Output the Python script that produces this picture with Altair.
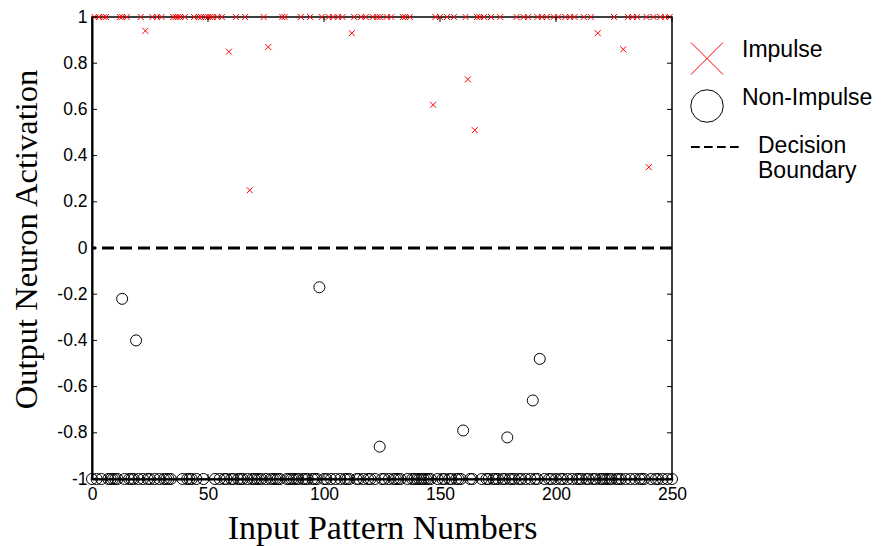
import altair as alt
import pandas as pd

# Impulse patterns (red crosses): x index and activation
imp_x = [1, 3, 5, 6, 12, 13, 15, 21, 23, 26, 28, 30, 35, 36, 37, 38, 40, 44, 46, 47, 49, 50,
         51, 52, 54, 56, 59, 62, 66, 68, 74, 76, 82, 83, 90, 94, 99, 102, 104, 106, 108, 112,
         113, 116, 118, 121, 123, 124, 127, 129, 134, 135, 137, 147, 148, 150, 153, 156, 161,
         162, 165, 166, 167, 169, 172, 176, 183, 186, 188, 192, 194, 196, 199, 201, 204, 206,
         208, 212, 215, 218, 225, 229, 231, 233, 235, 239, 240, 242, 245, 247, 249]
imp_y = [1, 1, 1, 1, 1, 1, 1, 1, 0.94, 1, 1, 1, 1, 1, 1, 1, 1, 1, 1, 1, 1, 1,
         1, 1, 1, 1, 0.85, 1, 1, 0.25, 1, 0.87, 1, 1, 1, 1, 1, 1, 1, 1, 1, 0.93,
         1, 1, 1, 1, 1, 1, 1, 1, 1, 1, 1, 0.62, 1, 1, 1, 1, 1,
         0.73, 0.51, 1, 1, 1, 1, 1, 1, 1, 1, 1, 1, 1, 1, 1, 1, 1,
         1, 1, 1, 0.93, 1, 0.86, 1, 1, 1, 1, 0.35, 1, 1, 1, 1]

# Non-impulse patterns (black circles)
non_x = [0, 2, 4, 7, 8, 9, 10, 11, 13, 14, 16, 17, 18, 19, 20, 22, 24, 25, 27, 29, 31, 32, 33, 34,
         39, 41, 42, 43, 45, 48, 53, 55, 57, 58, 60, 61, 63, 64, 65, 67, 69, 70, 71, 72, 73,
         75, 77, 78, 79, 80, 81, 84, 85, 86, 87, 88, 89, 91, 92, 93, 95, 96, 97, 98, 100, 101,
         103, 105, 107, 109, 110, 111, 114, 115, 117, 119, 120, 122, 124, 125, 126, 128, 130,
         131, 132, 133, 136, 138, 139, 140, 141, 142, 143, 144, 145, 146, 149, 151, 152, 154,
         155, 157, 158, 159, 160, 163, 164, 168, 170, 171, 173, 174, 175, 177, 178, 179, 180,
         181, 182, 184, 185, 187, 189, 190, 191, 192, 193, 195, 197, 198, 200, 202, 203, 205,
         207, 209, 210, 211, 213, 214, 216, 217, 219, 220, 221, 222, 223, 224, 226, 227, 228,
         230, 232, 234, 236, 237, 238, 241, 243, 244, 246, 248, 250]
non_y = [-1, -1, -1, -1, -1, -1, -1, -1, -0.22, -1, -1, -1, -1, -0.40, -1, -1, -1, -1, -1, -1, -1, -1, -1, -1,
         -1, -1, -1, -1, -1, -1, -1, -1, -1, -1, -1, -1, -1, -1, -1, -1, -1, -1, -1, -1, -1,
         -1, -1, -1, -1, -1, -1, -1, -1, -1, -1, -1, -1, -1, -1, -1, -1, -1, -1, -0.17, -1, -1,
         -1, -1, -1, -1, -1, -1, -1, -1, -1, -1, -1, -1, -0.86, -1, -1, -1, -1,
         -1, -1, -1, -1, -1, -1, -1, -1, -1, -1, -1, -1, -1, -1, -1, -1, -1,
         -1, -1, -1, -1, -0.79, -1, -1, -1, -1, -1, -1, -1, -1, -1, -1, -0.82, -1, -1,
         -1, -1, -1, -1, -1, -0.66, -1, -1, -0.48, -1, -1, -1, -1, -1, -1, -1, -1,
         -1, -1, -1, -1, -1, -1, -1, -1, -1, -1, -1, -1, -1, -1, -1, -1, -1,
         -1, -1, -1, -1, -1, -1, -1, -1, -1, -1, -1]

x_ticks = [0, 50, 100, 150, 200, 250]
y_ticks = [-1, -0.8, -0.6, -0.4, -0.2, 0, 0.2, 0.4, 0.6, 0.8, 1]
boundary = [0]

W, H = 580, 462

imp_df = pd.DataFrame({"x": imp_x, "y": imp_y})
non_df = pd.DataFrame({"x": non_x, "y": non_y})

xscale = alt.Scale(domain=[0, 250], nice=False, zero=False)
yscale = alt.Scale(domain=[-1, 1], nice=False, zero=False)

xaxis = alt.Axis(values=x_ticks, title="Input Pattern Numbers", titleFont="Liberation Serif",
                 titleFontSize=34, titleFontWeight="normal", titleColor="black",
                 labelFont="Liberation Sans", labelFontSize=17.5, labelColor="black",
                 labelFlush=False, labelOverlap=False, ticks=False, grid=False,
                 domainColor="black", domainWidth=2, labelPadding=6, titlePadding=9)
yaxis = alt.Axis(values=y_ticks, title="Output Neuron Activation", titleFont="Liberation Serif",
                 titleFontSize=32.5, titleFontWeight="normal", titleColor="black",
                 labelFont="Liberation Sans", labelFontSize=17.5, labelColor="black",
                 labelFlush=False, labelOverlap=False, ticks=False, grid=False,
                 labelExpr="'' + datum.value",
                 domainColor="black", domainWidth=2, labelPadding=5, titlePadding=13,
                 titleY=222)

bnd = alt.Chart(pd.DataFrame({"y": boundary})).mark_rule(
    color="black", strokeWidth=3, strokeDash=[12, 6]
).encode(y=alt.Y("y:Q", scale=yscale, axis=yaxis))

circles = alt.Chart(non_df).mark_point(
    shape="circle", filled=False, color="black", size=121, strokeWidth=1, opacity=1
).encode(x=alt.X("x:Q", scale=xscale, axis=xaxis), y=alt.Y("y:Q", scale=yscale, axis=yaxis))

cross_path = "M-1,-1L1,1M1,-1L-1,1"
crosses = alt.Chart(imp_df).mark_point(
    shape=cross_path, filled=False, color="red", size=36, strokeWidth=1, opacity=1
).encode(x=alt.X("x:Q", scale=xscale), y=alt.Y("y:Q", scale=yscale))

# inward tick marks
xt = pd.DataFrame({"t": x_ticks})
yt = pd.DataFrame({"t": y_ticks})
tick_bottom = alt.Chart(xt).mark_rule(color="black", strokeWidth=1).encode(
    x=alt.X("t:Q", scale=xscale), y=alt.value(H), y2=alt.value(H - 5))
tick_top = alt.Chart(xt).mark_rule(color="black", strokeWidth=1).encode(
    x=alt.X("t:Q", scale=xscale), y=alt.value(0), y2=alt.value(5))
tick_left = alt.Chart(yt).mark_rule(color="black", strokeWidth=1).encode(
    y=alt.Y("t:Q", scale=yscale), x=alt.value(0), x2=alt.value(5))
tick_right = alt.Chart(yt).mark_rule(color="black", strokeWidth=1).encode(
    y=alt.Y("t:Q", scale=yscale), x=alt.value(W), x2=alt.value(W - 5))

# custom legend
one = pd.DataFrame({"a": [0]})
leg_x = alt.Chart(one).mark_point(shape=cross_path, filled=False, color="red", size=1024,
                                  strokeWidth=1, opacity=1).encode(
    x=alt.value(615), y=alt.value(41.5))
leg_o = alt.Chart(one).mark_point(shape="circle", filled=False, color="black", size=1056,
                                  strokeWidth=1, opacity=1).encode(
    x=alt.value(615), y=alt.value(89))
leg_line = alt.Chart(one).mark_rule(color="black", strokeWidth=2, strokeDash=[8.7, 4.3]).encode(
    x=alt.value(599), x2=alt.value(647), y=alt.value(130))
txt_kw = dict(font="Liberation Sans", fontSize=23, color="black", align="left", baseline="alphabetic")
leg_t1 = alt.Chart(one).mark_text(text="Impulse", **txt_kw).encode(x=alt.value(650), y=alt.value(40))
leg_t2 = alt.Chart(one).mark_text(text="Non-Impulse", **txt_kw).encode(x=alt.value(650), y=alt.value(88))
leg_t3 = alt.Chart(one).mark_text(text="Decision", **txt_kw).encode(x=alt.value(666), y=alt.value(136))
leg_t4 = alt.Chart(one).mark_text(text="Boundary", **txt_kw).encode(x=alt.value(666), y=alt.value(161))

chart = alt.layer(
    bnd, circles, crosses, tick_bottom, tick_top, tick_left, tick_right,
    leg_x, leg_o, leg_line, leg_t1, leg_t2, leg_t3, leg_t4
).properties(
    width=W, height=H,
    autosize=alt.AutoSizeParams(type="none"),
    padding={"left": 84, "top": 9, "right": 202, "bottom": 67},
    background="white",
).configure_view(stroke="black", strokeWidth=1.5)

chart.save("out.html", embed_options={"renderer": "svg", "actions": False})
